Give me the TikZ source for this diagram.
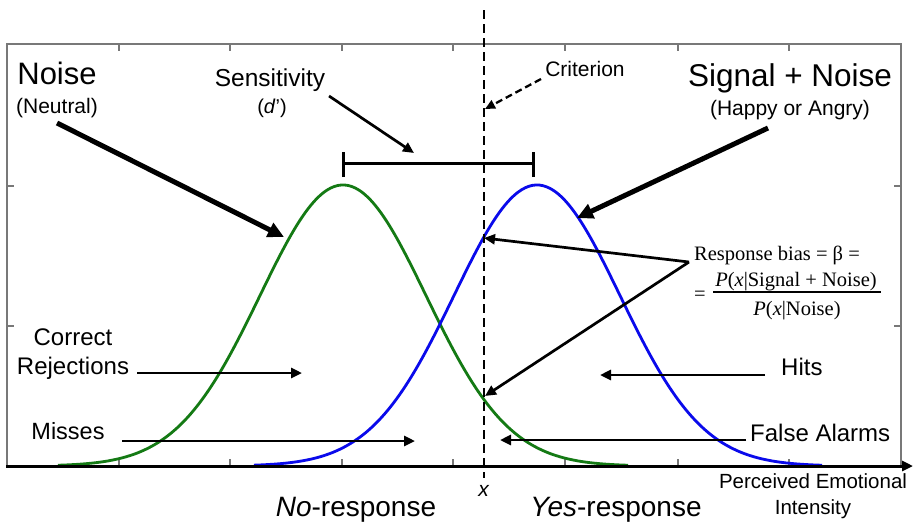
\documentclass[tikz,border=0pt]{standalone}
\usepackage{fontspec}
\setmainfont{Liberation Sans}
\newfontfamily\tnr{Liberation Serif}
\usetikzlibrary{arrows.meta}
\definecolor{cgreen}{RGB}{20,122,20}
\definecolor{cblue}{RGB}{10,10,235}
\definecolor{cframe}{RGB}{120,120,120}
\begin{document}
\begin{tikzpicture}[x=1pt,y=-1pt,
  lbl/.style={inner sep=0pt, anchor=base},
  fz/.style={font=\fontsize{#1}{#1}\selectfont},
  bigarrow/.style={line width=5pt, -{Triangle[length=16pt,width=15pt]}},
  thinarrow/.style={line width=2.7pt, -{Triangle[length=11pt,width=10pt]}},
  frameline/.style={draw=cframe, line width=1.4pt},
  curve/.style={line width=2.8pt, samples=160, smooth},
  ]
\useasboundingbox (0,0) rectangle (913,523);
\fill[white] (0,0) rectangle (913,523);

% frame and ticks
\draw[frameline] (7,466) -- (7,44) -- (901,44) -- (901,466);
\foreach \t in {119,230,342,453,565,678,789}{
  \draw[frameline] (\t,44) -- (\t,51);
  \draw[frameline] (\t,466) -- (\t,459);
}
\foreach \t in {186,326}{
  \draw[frameline] (7,\t) -- (14,\t);
  \draw[frameline] (901,\t) -- (894,\t);
}

% curves
\draw[curve, cgreen, domain=58:628] plot (\x, {466-281*exp(-0.5*((\x-343)/83)^2)});
\draw[curve, cblue, domain=254:822] plot (\x, {466-281*exp(-0.5*((\x-537)/83)^2)});

% axis
\coordinate (axL) at (6,466);
\coordinate (axR) at (913,466);
\draw[line width=3pt, -{Triangle[length=11pt,width=10pt]}] (axL) -- (axR);

% criterion line
\coordinate (critTop) at (484,10);
\coordinate (critBot) at (484,478);
\draw[line width=2.3pt, dash pattern=on 9pt off 5pt] (critTop) -- (critBot);

% texts
\node[lbl, fz=31] (noise) at (57,84) {Noise};
\node[lbl, fz=21] (neutral) at (57,113) {(Neutral)};
\node[lbl, fz=24.5] (sens) at (270,86) {Sensitivity};
\node[lbl, fz=20] (dprime) at (272,113) {(\textit{d}')};
\node[lbl, fz=21] (crit) at (585,76) {Criterion};
\node[lbl, fz=31.5] (sig) at (790,86) {Signal + Noise};
\node[lbl, fz=21] (happy) at (790,115) {(Happy or Angry)};
\node[lbl, fz=24] (correct) at (73,345) {Correct};
\node[lbl, fz=24] (rej) at (73,374) {Rejections};
\node[lbl, fz=23.5] (misses) at (68,439) {Misses};
\node[lbl, fz=24, anchor=base west] (hits) at (781,375) {Hits};
\node[lbl, fz=24, anchor=base west] (fa) at (750,441) {False Alarms};
\node[lbl, fz=20.5] (pei) at (813,488) {Perceived Emotional};
\node[lbl, fz=20.5] (int) at (813,514) {Intensity};
\node[lbl, fz=21] (xl) at (484,496) {\textit{x}};
\node[lbl, fz=28] (nor) at (356,516) {\textit{No}-response};
\node[lbl, fz=28] (yesr) at (616,516) {\textit{Yes}-response};

% formula
\node[lbl, fz=20.5, anchor=base west] (bias) at (694,260) {\tnr Response bias = β =};
\node[lbl, fz=20.5, anchor=base west] (eq) at (694,300) {\tnr =};
\node[lbl, fz=20.5, anchor=base] (num) at (796,286) {\tnr\textit{P}(\textit{x}|Signal + Noise)};
\node[lbl, fz=20.5, anchor=base] (den) at (797,315) {\tnr\textit{P}(\textit{x}|Noise)};
\coordinate (fracL) at (713,292);
\coordinate (fracR) at (881,292);
\draw[line width=1.2pt] (fracL) -- (fracR);

% bracket for d'
\coordinate (brL) at (343,163);
\coordinate (brR) at (533,163);
\draw[line width=3pt] (brL) -- (brR);
\draw[line width=3pt] ([yshift=-14pt]brL) -- ([yshift=11pt]brL);
\draw[line width=3pt] ([yshift=-14pt]brR) -- ([yshift=11pt]brR);

% arrows
\coordinate (noiseS) at (57,123);  \coordinate (noiseT) at (284,237);
\draw[bigarrow] (noiseS) -- (noiseT);
\coordinate (sigS) at (768,128);   \coordinate (sigT) at (577,218);
\draw[bigarrow] (sigS) -- (sigT);
\coordinate (sensS) at (329,96);   \coordinate (sensT) at (414,153);
\draw[thinarrow] (sensS) -- (sensT);
\coordinate (critS) at (541,79);   \coordinate (critT) at (485,109);
\draw[line width=2.3pt, dash pattern=on 7pt off 4pt, -{Triangle[length=10pt,width=9pt]}] (critS) -- (critT);
\coordinate (biasV) at (689,262);
\coordinate (biasT1) at (484,238);
\coordinate (biasT2) at (485,396);
\draw[thinarrow] (biasV) -- (biasT1);
\draw[thinarrow] (biasV) -- (biasT2);
\coordinate (crS) at (137,373);    \coordinate (crT) at (302,373);
\draw[thinarrow] (crS) -- (crT);
\coordinate (miS) at (122,441);    \coordinate (miT) at (415,441);
\draw[thinarrow] (miS) -- (miT);
\coordinate (hiS) at (765,375);    \coordinate (hiT) at (600,375);
\draw[thinarrow] (hiS) -- (hiT);
\coordinate (faS) at (746,440);    \coordinate (faT) at (500,440);
\draw[thinarrow] (faS) -- (faT);
\end{tikzpicture}
\end{document}
